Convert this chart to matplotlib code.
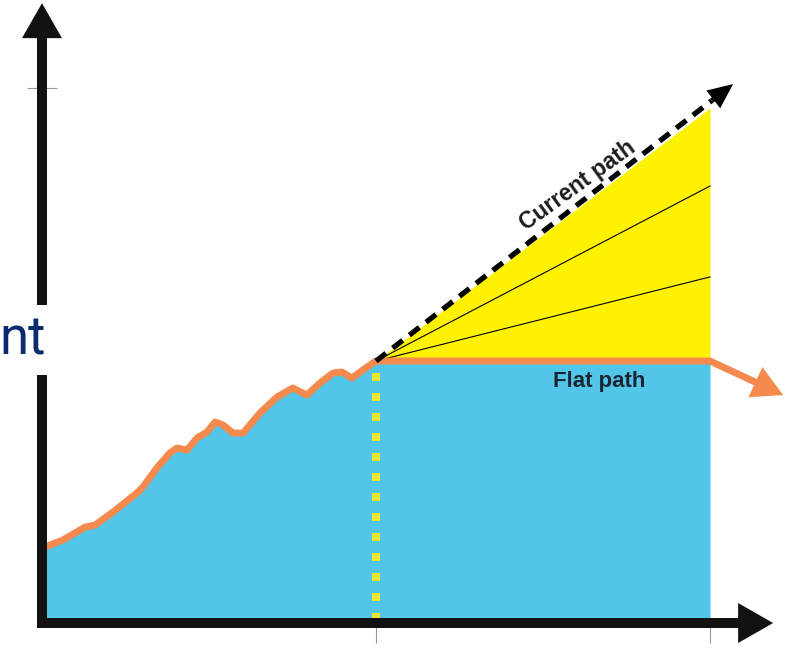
"""
Flat path vs current path diagram.

History curve up to "now", then a flat projection and a fan of
growth paths up to the current trend.

Output: out.png
"""
import matplotlib
matplotlib.use("Agg")
import matplotlib.pyplot as plt
from matplotlib.patches import FancyArrowPatch

BLUE = "#52c6e8"
ORANGE = "#f58a4e"
FAN_YELLOW = "#fff200"
DOT_YELLOW = "#f3e62c"
AXIS_BLACK = "#121212"
TEXT_DARK = "#1c1c1c"
NAVY = "#0b2a6f"

# history: time index -> value (flat level = 100)
HIST_T = [0.0, 0.63, 1.29, 1.59, 2.13, 2.84, 3.02, 3.44, 3.83, 4.04, 4.34,
          4.64, 4.94, 5.18, 5.42, 5.72, 6.02, 6.53, 7.04, 7.51, 7.93, 8.32,
          8.71, 8.98, 9.28, 9.61, 10.0]
HIST_V = [28.6, 31.7, 36.6, 37.4, 42.4, 49.6, 51.9, 59.2, 64.9, 66.8, 66.0,
          70.6, 72.9, 76.7, 75.6, 72.5, 72.5, 80.2, 86.3, 89.7, 87.0, 91.6,
          95.4, 95.8, 93.5, 96.6, 100.0]

NOW_T = 10.0
END_T = 20.0
FLAT_V = 100.0
CURRENT_END_V = 196.6          # current path value at END_T
FAN_END_V = [166.8, 132.1]     # intermediate paths
CURRENT_TIP = (20.69, 205.7)   # arrow tip of the current path
FLAT_TIP = (22.19, 87.0)       # arrow tip after the flat path

X_TICKS = [10, 20]
Y_TICKS = [204.2]


def arrow(ax, start, end, color, tail, head_w, head_l, scale, z):
    style = f"simple,tail_width={tail},head_width={head_w},head_length={head_l}"
    p = FancyArrowPatch(start, end, arrowstyle=style, mutation_scale=scale,
                        color=color, lw=0, shrinkA=0, shrinkB=0, zorder=z)
    ax.add_patch(p)


def plot(out_path):
    fig = plt.figure(figsize=(7.88, 6.49), dpi=100)
    ax = fig.add_axes([0, 0, 1, 1])
    ax.set_xlim(-1.257, 22.335)
    ax.set_ylim(-9.92, 237.8)

    # blue area under history + flat path
    area_t = HIST_T + [END_T]
    area_v = HIST_V + [FLAT_V]
    ax.fill_between(area_t, 0, area_v, color=BLUE, lw=0, zorder=1)

    # yellow fan
    ax.fill_between([NOW_T, END_T], [FLAT_V, FLAT_V], [FLAT_V, CURRENT_END_V],
                    color=FAN_YELLOW, lw=0, zorder=1)
    for v in FAN_END_V:
        ax.plot([NOW_T, END_T], [FLAT_V, v], color="black", lw=0.8, zorder=2)

    # "now" marker
    ax.plot([NOW_T, NOW_T], [0.8, FLAT_V - 0.5], color=DOT_YELLOW, lw=5.76,
            dashes=(1, 1.5), solid_capstyle="butt", dash_capstyle="butt",
            zorder=3)

    # orange history + flat path
    ax.plot(area_t, area_v, color=ORANGE, lw=5, solid_joinstyle="round",
            solid_capstyle="round", zorder=4)
    arrow(ax, (END_T, FLAT_V), FLAT_TIP, ORANGE, 0.25, 1.2, 1.1, 20, 4)

    # current path (dashed with head)
    frac = 0.94
    mid = (NOW_T + (CURRENT_TIP[0] - NOW_T) * frac,
           FLAT_V + (CURRENT_TIP[1] - FLAT_V) * frac)
    ax.plot([NOW_T, mid[0]], [FLAT_V, mid[1]], color="black", lw=3.8,
            dashes=(2.4, 1.6), dash_capstyle="butt", zorder=5)
    arrow(ax, mid, CURRENT_TIP, "black", 0.2, 0.9, 1.0, 18, 5)

    # axes as arrows
    arrow(ax, (0, -1.9), (0, 236.6), AXIS_BLACK, 0.2, 0.8, 0.7, 36, 6)
    arrow(ax, (-0.15, 0), (21.89, 0), AXIS_BLACK, 0.2, 0.8, 0.7, 36, 6)

    # light tick marks
    for s in ax.spines.values():
        s.set_visible(False)
    ax.spines["bottom"].set_position(("data", 0))
    ax.spines["left"].set_position(("data", 0))
    ax.set_xticks(X_TICKS)
    ax.set_yticks(Y_TICKS)
    ax.set_xticklabels([])
    ax.set_yticklabels([])
    ax.tick_params(axis="x", direction="out", length=14.4, width=0.8,
                   color="#9a9a9a")
    ax.tick_params(axis="y", direction="inout", length=21.6, width=0.8,
                   color="#9a9a9a")

    # labels
    ax.text(16.05, 167.0, "Current path", rotation=36, rotation_mode="anchor",
            ha="center", va="center", fontsize=16.5, fontweight="bold",
            family="Liberation Sans", color=TEXT_DARK, zorder=7)
    ax.text(16.68, 92.0, "Flat path", ha="center", va="center", fontsize=16,
            fontweight="bold", family="Liberation Sans", color="#1a2533",
            zorder=7)
    ax.text(0.12, 102.3, "nt", ha="right", va="baseline", fontsize=38,
            family="Roboto", color=NAVY, zorder=8,
            bbox=dict(facecolor="white", edgecolor="none", pad=7))

    fig.savefig(out_path, dpi=100)
    plt.close(fig)


def main():
    plot("out.png")


if __name__ == "__main__":
    main()
